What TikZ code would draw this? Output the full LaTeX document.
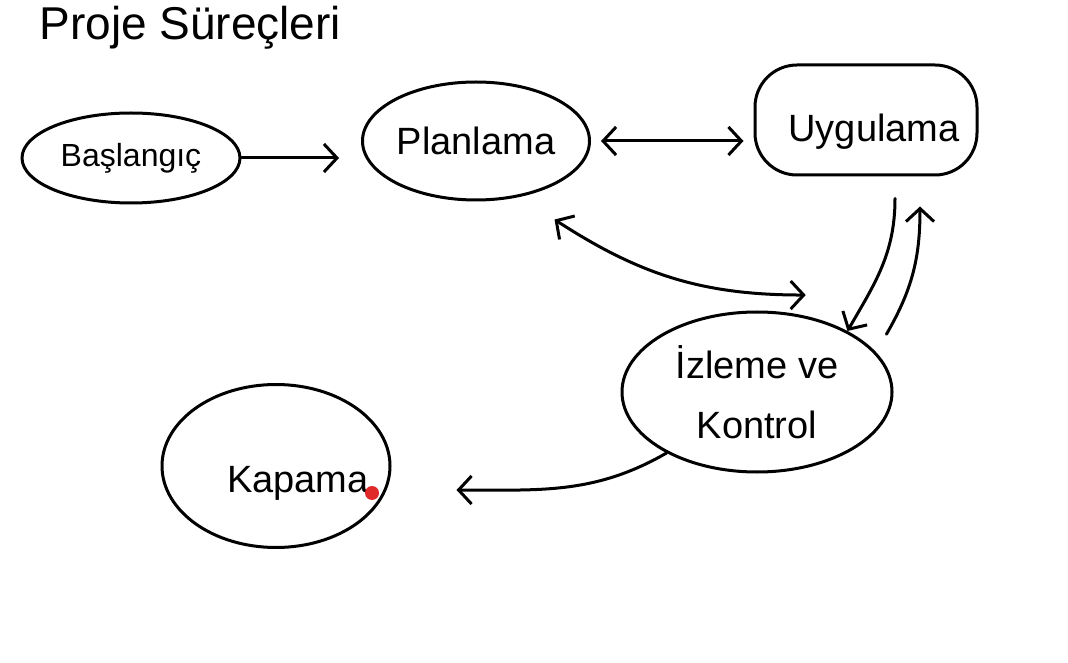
\documentclass[tikz,border=0pt]{standalone}
\usepackage{fontspec}
\setmainfont{Liberation Sans}
\usetikzlibrary{shapes.geometric,arrows.meta}
\definecolor{dotred}{HTML}{E02A2A}
\begin{document}
\begin{tikzpicture}[x=1pt,y=1pt,
  line width=3pt, line cap=round, line join=round,
  blob/.style={draw, ellipse, inner sep=0pt, line width=3pt, font=\fontsize{38}{60}\selectfont},
  rblob/.style={draw, rectangle, rounded corners=42pt, inner sep=0pt, line width=3pt, font=\fontsize{38}{60}\selectfont},
  conn/.style={-{Straight Barb[length=13pt,width=28pt,line width=3pt]}},
  conntwo/.style={{Straight Barb[length=13pt,width=28pt,line width=3pt]}-{Straight Barb[length=13pt,width=28pt,line width=3pt]}}
]
\useasboundingbox (0,0) rectangle (1068,662);

\node[anchor=base west, inner sep=0pt, font=\fontsize{46}{52}\selectfont] (title) at (38,622) {Proje Süreçleri};

\node[blob, minimum width=218pt, minimum height=90pt, font=\fontsize{32}{40}\selectfont] (start) at (131,504) {Başlangıç};
\node[blob, minimum width=227pt, minimum height=118pt] (plan) at (476,521) {Planlama};
\node[rblob, minimum width=222pt, minimum height=110pt] (uyg) at (866,542) {\makebox[0pt]{\smash{\raisebox{-22pt}{\hspace*{16pt}Uygulama}}}};
\node[blob, minimum width=270pt, minimum height=160pt, align=center] (izle) at (757,270) {İzleme ve\\Kontrol};
\node[blob, minimum width=228pt, minimum height=163pt] (kap) at (276,196) {\makebox[0pt]{\smash{\raisebox{-26pt}{\hspace*{44pt}Kapama}}}};
\node[circle, fill=dotred, draw=none, inner sep=0pt, minimum size=14pt] (dot) at (372,169) {};

% connectors
\draw[conn, shorten >=22pt] (start.east) -- (start.east -| plan.west);
\draw[conntwo, shorten <=10pt, shorten >=10pt] (plan.east) -- (plan.east -| uyg.west);
\draw[conntwo] ([shift={(25,-25)}]plan.-45) to[out=-33, in=180] ([shift={(9,19)}]izle.63);
\draw[conn] ([shift={(29,-22)}]uyg.south) to[out=-90, in=60] (izle.34);
\draw[conn] ([shift={(20,9)}]izle.24) to[out=60, in=-90] ([shift={(54,-30)}]uyg.south);
\draw[conn] (izle.214) to[out=-150, in=0] ([shift={(65,-24)}]kap.east);
\end{tikzpicture}
\end{document}
